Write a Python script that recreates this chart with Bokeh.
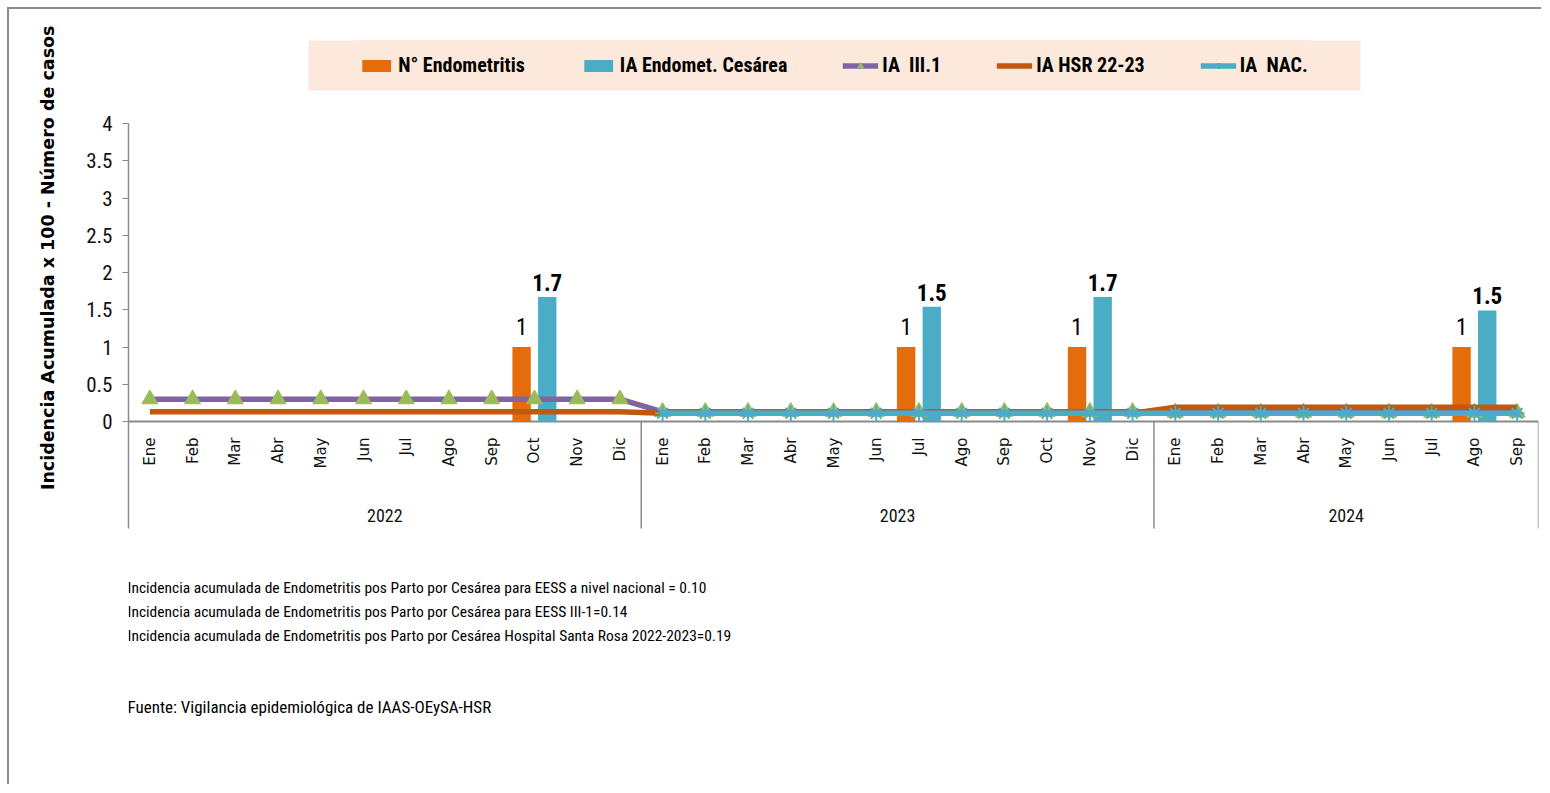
import math
import numpy as np
from bokeh.plotting import figure
from bokeh.models import (ColumnDataSource, Range1d, FixedTicker, Title, BoxAnnotation,
                          Legend, LegendItem)
from bokeh.transform import dodge
from bokeh.core.properties import value
from bokeh.embed import file_html
from bokeh.resources import INLINE

nan = float("nan")

# ---------------- data ----------------
years = ["2022"] * 12 + ["2023"] * 12 + ["2024"] * 9
months = ["Ene", "Feb", "Mar", "Abr", "May", "Jun", "Jul", "Ago", "Sep", "Oct", "Nov", "Dic",
          "Ene", "Feb", "Mar", "Abr", "May", "Jun", "Jul", "Ago", "Sep", "Oct", "Nov", "Dic",
          "Ene", "Feb", "Mar", "Abr", "May", "Jun", "Jul", "Ago", "Sep"]

n_endometritis = [0, 0, 0, 0, 0, 0, 0, 0, 0, 1, 0, 0,
                  0, 0, 0, 0, 0, 0, 1, 0, 0, 0, 1, 0,
                  0, 0, 0, 0, 0, 0, 0, 1, 0]
ia_endomet_cesarea = [0, 0, 0, 0, 0, 0, 0, 0, 0, 1.67, 0, 0,
                      0, 0, 0, 0, 0, 0, 1.54, 0, 0, 0, 1.67, 0,
                      0, 0, 0, 0, 0, 0, 0, 1.49, 0]
ia_iii1 = [0.30, 0.30, 0.30, 0.30, 0.30, 0.30, 0.30, 0.30, 0.30, 0.30, 0.30, 0.30,
           0.13, 0.13, 0.13, 0.13, 0.13, 0.13, 0.13, 0.13, 0.13, 0.13, 0.13, 0.13,
           0.12, 0.12, 0.12, 0.12, 0.12, 0.12, 0.12, 0.12, 0.12]
ia_hsr = [0.13, 0.13, 0.13, 0.13, 0.13, 0.13, 0.13, 0.13, 0.13, 0.13, 0.13, 0.13,
          0.11, 0.11, 0.11, 0.11, 0.11, 0.11, 0.11, 0.11, 0.11, 0.11, 0.11, 0.11,
          0.19, 0.19, 0.19, 0.19, 0.19, 0.19, 0.19, 0.19, 0.19]
ia_nac = [nan, nan, nan, nan, nan, nan, nan, nan, nan, nan, nan, nan,
          0.11, 0.11, 0.11, 0.11, 0.11, 0.11, 0.11, 0.11, 0.11, 0.11, 0.11, 0.11,
          0.11, 0.11, 0.11, 0.11, 0.11, 0.11, 0.11, 0.11, 0.11]

y_ticks = [0, 0.5, 1, 1.5, 2, 2.5, 3, 3.5, 4]
y_tick_labels = ["0", "0.5", "1", "1.5", "2", "2.5", "3", "3.5", "4"]

series_names = ["N° Endometritis", "IA Endomet. Cesárea", "IA  III.1", "IA HSR 22-23", "IA  NAC."]
y_title = "Incidencia Acumulada x 100 - Número de casos"
notes = [
    "Incidencia acumulada de Endometritis pos Parto por Cesárea para EESS a nivel nacional = 0.10",
    "Incidencia acumulada de Endometritis pos Parto por Cesárea para EESS III-1=0.14",
    "Incidencia acumulada de Endometritis pos Parto por Cesárea Hospital Santa Rosa 2022-2023=0.19",
]
source_note = "Fuente: Vigilancia epidemiológica de IAAS-OEySA-HSR"

# ---------------- styles / layout ----------------
NARROW = "Roboto Condensed, Liberation Sans Narrow, Arial Narrow, sans-serif"
C_ORANGE = "#E46C0A"
C_BLUE = "#4BACC6"
C_PURPLE = "#8064A2"
C_GREEN = "#9BBB59"
C_BROWN = "#C0580E"
C_AXIS = "#8A8A8A"
C_LEGEND_BG = "#FCE9DB"

PX_Y = 74.5                     # pixels per y unit
PX_X = 1410 / len(months)       # pixels per category
Y_TOP = 4 + 98 / PX_Y           # frame top 98px above the "4" tick
Y_MIN = -365 / PX_Y             # frame runs to bottom of figure
Y_AXIS_BOTTOM = -107 / PX_Y     # bottom of category axis block
X0 = -0.5
LEG_BOX = dict(left=X0 + 180 / PX_X, right=X0 + 1232 / PX_X,
               top=4 + 83 / PX_Y, bottom=4 + 33 / PX_Y)

idx = list(range(len(months)))
src = ColumnDataSource(dict(
    x=idx, n=n_endometritis, ia=ia_endomet_cesarea,
    iii=np.array(ia_iii1, dtype=float), hsr=np.array(ia_hsr, dtype=float),
    nac=np.array(ia_nac, dtype=float), m=months,
))

p = figure(width=1534, height=777,
           x_range=Range1d(X0, len(months) - 0.5),
           y_range=Range1d(Y_MIN, Y_TOP),
           output_backend="svg", toolbar_location=None,
           min_border_left=119, min_border_right=5,
           min_border_top=16, min_border_bottom=0)
p.styles = {"margin-left": "7px", "margin-top": "7px",
            "border-top": "2px solid #8c8c8c", "border-left": "2px solid #8c8c8c"}
p.outline_line_color = None
p.grid.grid_line_color = None
p.xaxis.visible = False

yax = p.yaxis[0]
yax.bounds = (Y_AXIS_BOTTOM, 4)
yax.ticker = FixedTicker(ticks=y_ticks, minor_ticks=[])
yax.major_label_overrides = {t: l for t, l in zip(y_ticks, y_tick_labels)}
yax.axis_line_color = C_AXIS
yax.axis_line_width = 1.5
yax.major_tick_line_color = C_AXIS
yax.major_tick_in = 0
yax.major_tick_out = 6
yax.minor_tick_line_color = None
yax.major_label_standoff = 10
yax.major_label_text_font = NARROW
yax.major_label_text_font_size = "21px"
yax.major_label_text_color = "#111111"

# y-axis title
p.add_layout(Title(text=y_title, align="right", standoff=51,
                   text_font="DejaVu Sans", text_font_style="bold",
                   text_font_size="17.5px", text_color="#000000"), "left")

# category axis line and group separators
groups = []
for i, y in enumerate(years):
    if not groups or groups[-1][0] != y:
        groups.append([y, i, i])
    else:
        groups[-1][2] = i
g_labels = [g[0] for g in groups]
g_centers = [(g[1] + g[2]) / 2 for g in groups]
g_bounds = [g[2] + 0.5 for g in groups]

p.segment(x0=[X0], y0=[0], x1=[len(months) - 0.5], y1=[0],
          line_color=C_AXIS, line_width=2)
p.segment(x0=g_bounds, y0=[0] * len(g_bounds), x1=g_bounds, y1=[Y_AXIS_BOTTOM] * len(g_bounds),
          line_color=C_AXIS, line_width=1.5)

# bars
r_n = p.vbar(x=dodge("x", -0.3), top="n", width=0.43, source=src,
             fill_color=C_ORANGE, line_color=None)
r_ia = p.vbar(x=dodge("x", 0.3), top="ia", width=0.43, source=src,
              fill_color=C_BLUE, line_color=None)

# lines
r_iii_l = p.line("x", "iii", source=src, line_color=C_PURPLE, line_width=5.5)
r_iii_m = p.scatter("x", "iii", source=src, marker="triangle", size=16,
                    fill_color=C_GREEN, line_color=C_GREEN)
r_hsr = p.line("x", "hsr", source=src, line_color=C_BROWN, line_width=5.5)
r_nac_l = p.line("x", "nac", source=src, line_color=C_BLUE, line_width=5.5)
r_nac_m = p.scatter("x", "nac", source=src, marker="asterisk", size=15,
                    line_color=C_BLUE, line_width=2)

# data labels
ln = dict(x=[i for i, v in enumerate(n_endometritis) if v],
          y=[v for v in n_endometritis if v],
          t=[f"{v:g}" for v in n_endometritis if v])
p.text(x=dodge("x", -0.3), y="y", text="t", source=ColumnDataSource(ln),
       text_align="center", text_baseline="bottom", y_offset=-12,
       text_font=value(NARROW), text_font_size="23px", text_color="#000000")
la = dict(x=[i for i, v in enumerate(ia_endomet_cesarea) if v],
          y=[v for v in ia_endomet_cesarea if v],
          t=[f"{v:.1f}" for v in ia_endomet_cesarea if v])
p.text(x=dodge("x", 0.3), y="y", text="t", source=ColumnDataSource(la),
       text_align="center", text_baseline="bottom", y_offset=-6,
       text_font=value(NARROW), text_font_style="bold", text_font_size="23px",
       text_color="#000000")

# category labels (months rotated, years below)
p.text(x="x", y=0, text="m", source=src, angle=math.pi / 2,
       text_align="right", text_baseline="middle", y_offset=16,
       text_font=value("DejaVu Sans"), text_font_size="15px", text_color="#111111")
p.text(x=g_centers, y=[0] * len(g_centers), text=g_labels,
       text_align="center", text_baseline="middle", y_offset=94,
       text_font=value(NARROW), text_font_size="18px", text_color="#111111")

# footnotes (below the category axis)
foot = notes + [source_note]
p.text(x=[X0] * len(foot), y=[0] * len(foot), text=foot,
       x_offset=[-1, -1, -1, -1], y_offset=[166, 190, 214, 285],
       text_align="left", text_baseline="middle",
       text_font=value(NARROW), text_font_size=["15.5px", "15.5px", "15.5px", "17px"],
       text_color="#000000")

# legend with its band
p.add_layout(BoxAnnotation(fill_color=C_LEGEND_BG, fill_alpha=1.0, line_color=None, **LEG_BOX))
legend = Legend(items=[
    LegendItem(label=series_names[0], renderers=[r_n]),
    LegendItem(label=series_names[1], renderers=[r_ia]),
    LegendItem(label=series_names[2], renderers=[r_iii_l, r_iii_m]),
    LegendItem(label=series_names[3], renderers=[r_hsr]),
    LegendItem(label=series_names[4], renderers=[r_nac_l, r_nac_m]),
], orientation="horizontal", location="top_center",
    background_fill_color=C_LEGEND_BG, background_fill_alpha=1.0,
    border_line_color=None, padding=55, spacing=55, margin=15,
    glyph_width=36, glyph_height=15, label_height=50, label_standoff=4,
    label_text_font=NARROW, label_text_font_style="bold",
    label_text_font_size="20px", label_text_color="#000000")
p.add_layout(legend)

open("out.html", "w").write(file_html(p, INLINE))
